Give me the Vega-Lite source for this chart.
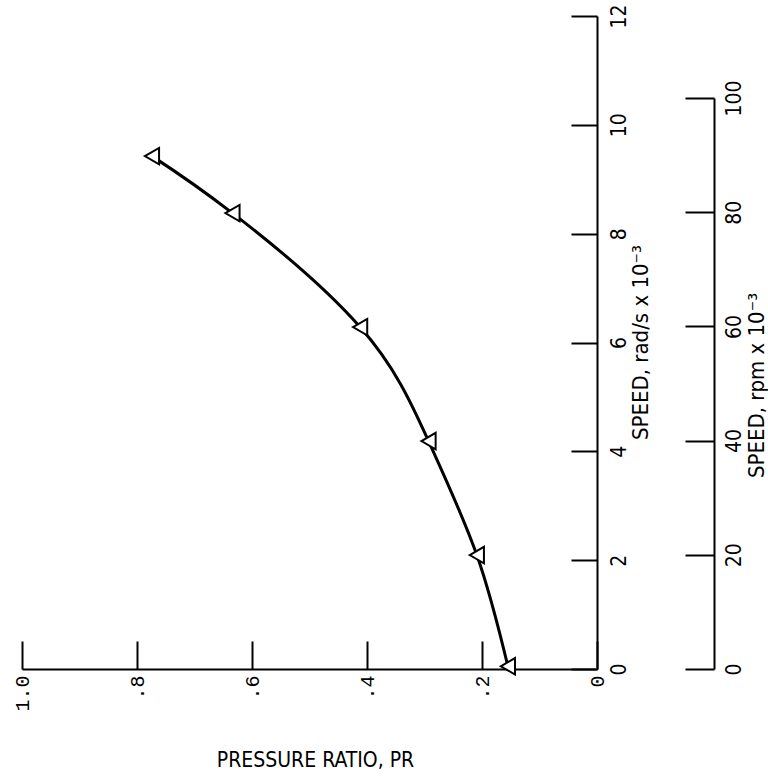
{
  "$schema": "https://vega.github.io/schema/vega-lite/v6.json",
  "width": 575,
  "height": 653,
  "autosize": {"type": "none"},
  "padding": {"left": 22, "top": 16, "right": 171, "bottom": 109},
  "background": "white",
  "config": {
    "view": {"stroke": null},
    "axis": {
      "grid": false,
      "domainColor": "black",
      "tickColor": "black",
      "labelColor": "black",
      "titleColor": "black",
      "domainWidth": 2,
      "tickWidth": 2,
      "labelFont": "DejaVu Sans Condensed, DejaVu Sans, sans-serif",
      "titleFont": "DejaVu Sans Condensed, DejaVu Sans, sans-serif",
      "titleFontWeight": "normal",
      "labelOverlap": false,
      "labelFlush": false
    }
  },
  "data": {
    "values": [
      {"speed_rad": 0.05, "speed_rpm": 0.5, "pr": 0.155},
      {"speed_rad": 2.094, "speed_rpm": 20, "pr": 0.209},
      {"speed_rad": 4.189, "speed_rpm": 40, "pr": 0.293},
      {"speed_rad": 6.283, "speed_rpm": 60, "pr": 0.412},
      {"speed_rad": 8.378, "speed_rpm": 80, "pr": 0.634},
      {"speed_rad": 9.425, "speed_rpm": 90, "pr": 0.774}
    ]
  },
  "resolve": {"scale": {"y": "independent"}, "axis": {"y": "independent"}},
  "layer": [
    {
      "layer": [
        {
          "mark": {"type": "line", "interpolate": "natural", "color": "black", "strokeWidth": 3},
          "encoding": {
            "x": {
              "field": "pr", "type": "quantitative",
              "scale": {"domain": [0, 1], "reverse": true, "nice": false},
              "axis": {
                "orient": "bottom",
                "values": [0, 0.2, 0.4, 0.6, 0.8, 1],
                "labelExpr": "datum.value == 1 ? '1.0' : datum.value == 0 ? '0' : '.' + format(datum.value * 10, 'd')",
                "tickSize": -28,
                "labelPadding": 34,
                "labelAngle": 270,
                "labelAlign": "right",
                "labelBaseline": "middle",
                "labelFont": "Liberation Mono",
                "labelFontSize": 20,
                "title": "PRESSURE RATIO, PR",
                "titleX": 293,
                "titleY": 91,
                "titleAngle": 0,
                "titleAlign": "center",
                "titleBaseline": "middle",
                "titleFontSize": 21
              }
            },
            "y": {
              "field": "speed_rad", "type": "quantitative",
              "scale": {"domain": [0, 12], "nice": false},
              "axis": {
                "orient": "right",
                "values": [0, 2, 4, 6, 8, 10, 12],
                "format": "d",
                "tickSize": -26,
                "labelPadding": 37,
                "labelAngle": 270,
                "labelAlign": "center",
                "labelBaseline": "top",
                "labelFontSize": 21,
                "title": "SPEED, rad/s x 10⁻³",
                "titleAngle": 270,
                "titleX": 43,
                "titleY": 326,
                "titleAlign": "center",
                "titleBaseline": "middle",
                "titleFontSize": 22
              }
            },
            "order": {"field": "speed_rad", "type": "quantitative"}
          }
        },
        {
          "mark": {"type": "point", "shape": "triangle-left", "size": 270, "filled": true, "fill": "white", "stroke": "black", "strokeWidth": 2, "opacity": 1},
          "encoding": {
            "x": {"field": "pr", "type": "quantitative"},
            "y": {"field": "speed_rad", "type": "quantitative"}
          }
        }
      ]
    },
    {
      "mark": {"type": "point", "opacity": 0},
      "encoding": {
        "x": {"field": "pr", "type": "quantitative"},
        "y": {
          "field": "speed_rpm", "type": "quantitative",
          "scale": {"domain": [0, 100], "range": [653, 82], "nice": false},
          "axis": {
            "orient": "right",
            "offset": 117,
            "values": [0, 20, 40, 60, 80, 100],
            "format": "d",
            "tickSize": -29,
            "labelPadding": 38,
            "labelAngle": 270,
            "labelAlign": "center",
            "labelBaseline": "top",
            "labelFontSize": 21,
            "title": "SPEED, rpm x 10⁻³",
            "titleAngle": 270,
            "titleX": 42,
            "titleY": 369,
            "titleAlign": "center",
            "titleBaseline": "middle",
            "titleFontSize": 22
          }
        }
      }
    }
  ]
}
